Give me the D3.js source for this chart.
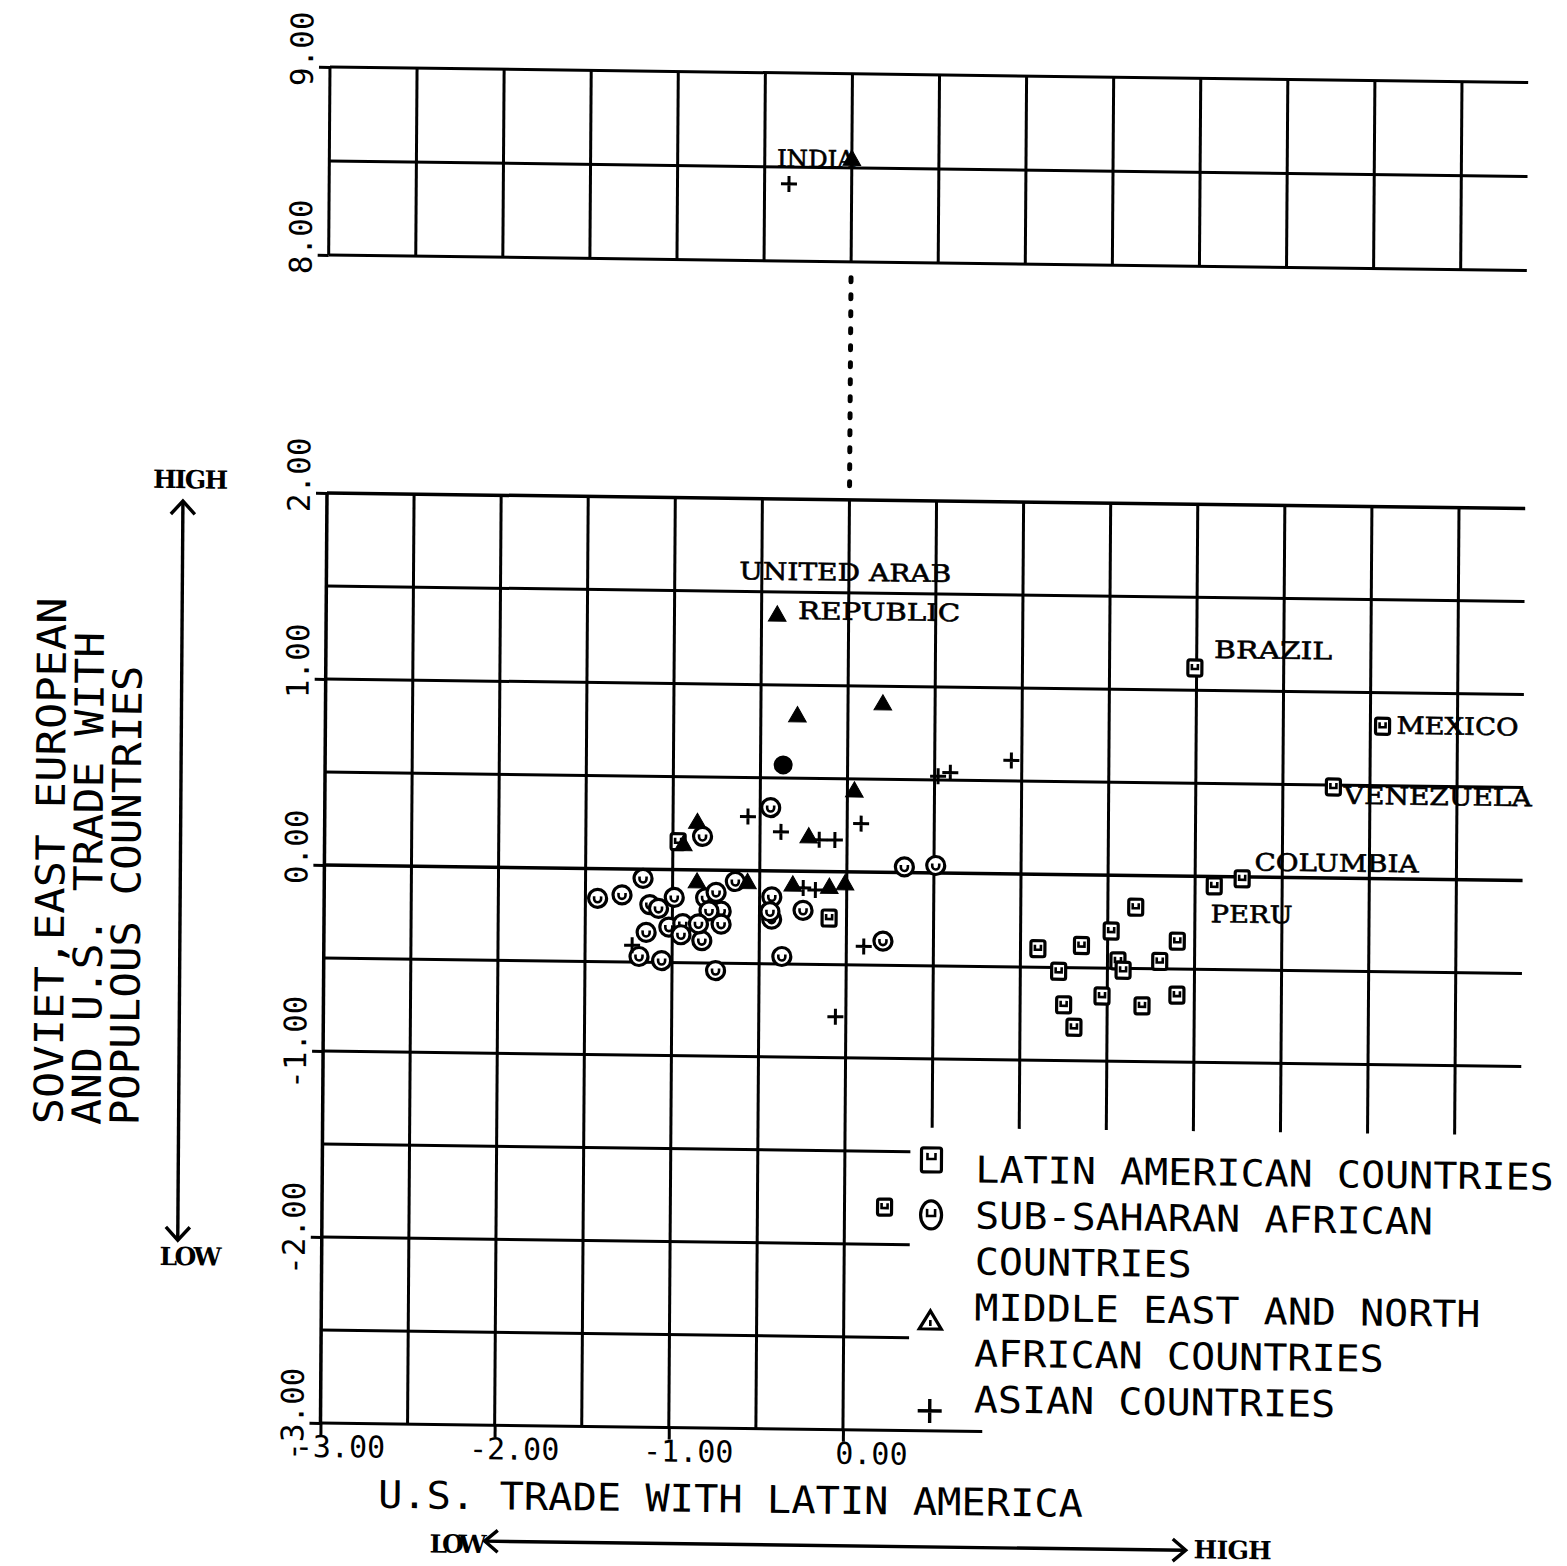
<!DOCTYPE html>
<html>
<head>
<meta charset="utf-8">
<script src="https://cdn.jsdelivr.net/npm/d3@7"></script>
<style>
  body { margin: 0; background: #fff; }
</style>
</head>
<body>
<div id="chart"></div>
<script>
// ---- data ----
// Latin American countries (squares)
var latinX = [1.99, 3.07, 2.79, 2.27, 2.11, 1.10, 1.22, 1.25, 1.31, 1.35, 1.47, 1.52, 1.56, 1.59, 1.66, 1.70, 1.80, 1.90, 1.90, -0.10, -0.97, 0.23];
var latinY = [1.12, 0.82, 0.49, -0.01, -0.05, -0.40, -0.52, -0.70, -0.82, -0.38, -0.65, -0.30, -0.46, -0.51, -0.17, -0.70, -0.46, -0.35, -0.64, -0.25, 0.15, -1.80];

// Sub-Saharan African countries (circles)
var africaX = [-0.44, -0.83, -1.17, -1.43, -1.29, -1.13, -1.08, -0.99, -0.81, -0.75, -0.72, -0.79, -0.64, -1.15, -1.02, -0.94, -0.95, -0.83, -0.72, -0.85, -1.19, -1.06, -0.75, -0.43, -0.43, -0.44, -0.25, -0.37, 0.21, 0.33, 0.51];
var africaY = [0.34, 0.18, -0.05, -0.16, -0.14, -0.19, -0.21, -0.15, -0.15, -0.12, -0.22, -0.22, -0.06, -0.34, -0.31, -0.29, -0.35, -0.38, -0.29, -0.29, -0.47, -0.49, -0.54, -0.14, -0.26, -0.22, -0.21, -0.46, -0.37, 0.03, 0.04];

// Middle East and North African countries (triangles)
var meX = [0.00, -0.41, -0.29, 0.20, 0.04, -0.86, -0.94, -0.22, -0.86, -0.57, -0.31, -0.10, -0.01];
var meY = [8.54, 1.37, 0.83, 0.90, 0.43, 0.25, 0.13, 0.18, -0.07, -0.07, -0.08, -0.09, -0.07];

// Asian countries (plus signs)
var asiaX = [-0.36, -0.57, -0.38, -0.16, -0.07, 0.08, 0.52, 0.59, 0.94, -0.25, -0.18, 0.10, -1.23, -0.06];
var asiaY = [8.41, 0.29, 0.21, 0.17, 0.17, 0.26, 0.52, 0.54, 0.61, -0.09, -0.10, -0.40, -0.41, -0.78];

// overprinted spot (several markers on top of each other)
var blotX = [-0.37];
var blotY = [0.57];

// country labels: text, left x, baseline y, printed width
var labelText = ["INDIA", "UNITED ARAB", "REPUBLIC", "BRAZIL", "MEXICO", "VENEZUELA", "COLUMBIA", "PERU"];
var labelX = [-0.43, -0.63, -0.29, 2.10, 3.15, 2.85, 2.34, 2.09];
var labelY = [8.50, 1.565, 1.355, 1.175, 0.78, 0.40, 0.036, -0.246];
var labelW = [78, 212, 162, 118, 122, 188, 164, 82];

// ticks
var topTicks = [8, 9];
var lowTicks = [-3, -2, -1, 0, 1, 2];
var xTicks = [-3, -2, -1, 0];

var legendLabels = [["LATIN AMERICAN COUNTRIES"], ["SUB-SAHARAN AFRICAN", "COUNTRIES"], ["MIDDLE EAST AND NORTH", "AFRICAN COUNTRIES"], ["ASIAN COUNTRIES"]];
var legendShapes = ["square", "circle", "triangle", "plus"];

// ---- layout ----
var svgWidth = 1567;
var svgHeight = 1566;
var mono = "'DejaVu Sans Mono', monospace";
var serif = "'DejaVu Serif', serif";
var lw = 3;

var svg = d3.select("#chart")
  .append("svg")
  .attr("width", svgWidth)
  .attr("height", svgHeight)
  .style("background", "#fff");

// the original page was scanned a little crooked
var page = svg.append("g")
  .attr("transform", "matrix(1,0.013,-0.007,1,3.45,-4.25)");

var xScale = d3.scaleLinear().domain([-3, 3.5]).range([327, 1459]);
var yLow = d3.scaleLinear().domain([-3, 2]).range([1423, 493]);
var yTop = d3.scaleLinear().domain([8, 9]).range([255, 67]);
var xEnd = 3.88;

function yPos(v) { return v >= 8 ? yTop(v) : yLow(v); }

var halves = d3.range(-6, 8).map(i => i / 2); // -3 .. 3.5

// ---- grid, upper panel ----
var grid = page.append("g").attr("stroke", "#000").attr("stroke-width", lw);

[8, 8.5, 9].forEach(function(v) {
  grid.append("line")
    .attr("x1", xScale(-3)).attr("x2", xScale(xEnd))
    .attr("y1", yTop(v)).attr("y2", yTop(v));
});
halves.forEach(function(v) {
  grid.append("line")
    .attr("x1", xScale(v)).attr("x2", xScale(v))
    .attr("y1", yTop(9)).attr("y2", yTop(8));
});

// ---- grid, lower panel ----
d3.range(-6, 5).map(i => i / 2).forEach(function(v) {
  var end = xEnd;
  if (v < -1 && v > -3) end = 0.376;
  if (v === -3) end = 0.80;
  grid.append("line")
    .attr("x1", xScale(-3)).attr("x2", xScale(end))
    .attr("y1", yLow(v)).attr("y2", yLow(v))
    .attr("stroke-width", v === 0 || v === 2 ? 3.5 : lw);
});
halves.forEach(function(v) {
  grid.append("line")
    .attr("x1", xScale(v)).attr("x2", xScale(v))
    .attr("y1", yLow(2)).attr("y2", v > 0 ? yLow(-1.37) : yLow(-3))
    .attr("stroke-width", v === -3 ? 3.5 : lw);
});

// dotted link between the two panels
page.append("line")
  .attr("x1", xScale(0)).attr("x2", xScale(0))
  .attr("y1", yTop(8) + 16).attr("y2", yLow(2) - 6)
  .attr("stroke", "#000")
  .attr("stroke-width", 5)
  .attr("stroke-linecap", "round")
  .attr("stroke-dasharray", "4,13");

// ---- axes ----
function styleY(g) {
  g.select(".domain").remove();
  g.selectAll(".tick line").attr("stroke", "#000").attr("stroke-width", lw);
  g.selectAll(".tick text")
    .attr("x", 0).attr("dy", 0)
    .attr("fill", "#000")
    .attr("font-family", mono)
    .attr("font-size", 31)
    .attr("text-anchor", "start")
    .attr("transform", function(d) {
      var k = d.toFixed(2).indexOf(".");
      return "translate(-17," + (-9 + (k + 0.5) * 18.7) + ") rotate(-90)";
    });
}

page.append("g")
  .attr("transform", `translate(${xScale(-3)},0)`)
  .call(d3.axisLeft(yTop).tickValues(topTicks).tickSize(11).tickFormat(d => d.toFixed(2)))
  .call(styleY);

page.append("g")
  .attr("transform", `translate(${xScale(-3)},0)`)
  .call(d3.axisLeft(yLow).tickValues(lowTicks).tickSize(11).tickFormat(d => d.toFixed(2)))
  .call(styleY);

page.append("g")
  .attr("transform", `translate(0,${yLow(-3)})`)
  .call(d3.axisBottom(xScale).tickValues(xTicks).tickSize(12).tickFormat(d => d.toFixed(2)))
  .call(function(g) {
    g.select(".domain").remove();
    g.selectAll(".tick line").attr("stroke", "#000").attr("stroke-width", lw);
    g.selectAll(".tick text")
      .attr("x", d => d < 0 ? -26 : -8)
      .attr("y", 34).attr("dy", 0)
      .attr("fill", "#000")
      .attr("font-family", mono)
      .attr("font-size", 30)
      .attr("text-anchor", "start");
  });

// axis titles
page.append("text")
  .attr("x", 385).attr("y", 1507)
  .attr("font-family", mono).attr("font-size", 38)
  .attr("textLength", 705).attr("lengthAdjust", "spacingAndGlyphs")
  .text("U.S. TRADE WITH LATIN AMERICA");

var yTitle = ["SOVIET,EAST EUROPEAN", "AND U.S. TRADE WITH", "POPULOUS COUNTRIES"];
var yTitleLen = [527, 493, 460];
yTitle.forEach(function(t, i) {
  page.append("text")
    .attr("transform", `translate(${67 + i * 38},1128) rotate(-90)`)
    .attr("font-family", mono).attr("font-size", 40)
    .attr("textLength", yTitleLen[i]).attr("lengthAdjust", "spacingAndGlyphs")
    .text(t);
});

// LOW / HIGH arrows
var arrows = page.append("g").attr("stroke", "#000").attr("stroke-width", 3.4).attr("fill", "none");
arrows.append("line").attr("x1", 183).attr("x2", 183).attr("y1", 503).attr("y2", 1242);
arrows.append("path").attr("d", "M171,516 L183,503 L195,516");
arrows.append("path").attr("d", "M171,1229 L183,1242 L195,1229");
arrows.append("line").attr("x1", 492).attr("x2", 1193).attr("y1", 1539).attr("y2", 1539);
arrows.append("path").attr("d", "M505,1528 L492,1539 L505,1550");
arrows.append("path").attr("d", "M1180,1528 L1193,1539 L1180,1550");

var hl = page.append("g").attr("font-family", serif).attr("font-weight", "bold").attr("font-size", 25);
hl.append("text").attr("x", 153).attr("y", 490).attr("textLength", 75).text("HIGH");
hl.append("text").attr("x", 165).attr("y", 1267).attr("textLength", 62).text("LOW");
hl.append("text").attr("x", 437).attr("y", 1551).attr("textLength", 57).text("LOW");
hl.append("text").attr("x", 1201).attr("y", 1547).attr("textLength", 78).text("HIGH");

// ---- markers ----
function squareMark(g, big) {
  var w = big ? 20 : 14, h = big ? 24 : 16;
  g.append("rect").attr("x", -w / 2).attr("y", -h / 2).attr("width", w).attr("height", h)
    .attr("rx", 2).attr("fill", "#fff").attr("stroke", "#000").attr("stroke-width", 3.2);
  g.append("path").attr("d", big ? "M-4,-7V-1H4V-7" : "M-3,-4V1H3V-4")
    .attr("fill", "none").attr("stroke", "#000").attr("stroke-width", 2.6);
}
function circleMark(g, big) {
  g.append("ellipse").attr("rx", big ? 10.5 : 9).attr("ry", big ? 14 : 9)
    .attr("fill", "#fff").attr("stroke", "#000").attr("stroke-width", 3.2);
  g.append("path").attr("d", big ? "M-4,-6V1H4V-6" : "M-3.5,-2V0.5A3.5,3.5 0 0 0 3.5,0.5V-2")
    .attr("fill", "none").attr("stroke", "#000").attr("stroke-width", 2.6);
}
function triangleMark(g, big) {
  if (big) {
    g.append("path").attr("d", "M0,-10L11,8H-11Z").attr("fill", "#fff").attr("stroke", "#000").attr("stroke-width", 3.2);
    g.append("path").attr("d", "M0,-1V5").attr("stroke", "#000").attr("stroke-width", 2.6);
  } else {
    g.append("path").attr("d", d3.symbol(d3.symbolTriangle, 135)()).attr("fill", "#000")
      .attr("stroke", "#000").attr("stroke-width", 1);
  }
}
function plusMark(g, big) {
  var s = big ? 12 : 8;
  g.append("path").attr("d", `M${-s},0H${s}M0,${-s}V${s}`)
    .attr("stroke", "#000").attr("stroke-width", big ? 3.4 : 3);
}

var series = [
  { xs: latinX, ys: latinY, draw: squareMark },
  { xs: africaX, ys: africaY, draw: circleMark },
  { xs: meX, ys: meY, draw: triangleMark },
  { xs: asiaX, ys: asiaY, draw: plusMark }
];

var marks = page.append("g");
series.forEach(function(s) {
  marks.selectAll(null)
    .data(d3.zip(s.xs, s.ys))
    .enter()
    .append("g")
    .attr("transform", d => `translate(${xScale(d[0])},${yPos(d[1])})`)
    .each(function() { s.draw(d3.select(this), false); });
});

marks.selectAll(null)
  .data(d3.zip(blotX, blotY))
  .enter()
  .append("circle")
  .attr("cx", d => xScale(d[0]))
  .attr("cy", d => yPos(d[1]))
  .attr("r", 9.5)
  .attr("fill", "#000");

// country labels
page.append("g")
  .attr("font-family", serif)
  .attr("font-size", 24)
  .attr("stroke", "#000")
  .attr("stroke-width", 0.6)
  .selectAll("text")
  .data(labelText)
  .enter()
  .append("text")
  .attr("x", (d, i) => xScale(labelX[i]))
  .attr("y", (d, i) => yPos(labelY[i]))
  .attr("textLength", (d, i) => labelW[i])
  .attr("lengthAdjust", "spacingAndGlyphs")
  .text(d => d);

// ---- legend ----
var lx = xScale(0.75);
var ly = 1174;
var lineGap = 46;
var symOffset = [-22, -13, 1, -1];
var shapeFns = { square: squareMark, circle: circleMark, triangle: triangleMark, plus: plusMark };
var legend = page.append("g");
var row = 0;
legendLabels.forEach(function(lines, i) {
  var sg = legend.append("g")
    .attr("transform", `translate(${lx - 44},${ly + row * lineGap + symOffset[i]})`);
  shapeFns[legendShapes[i]](sg, true);
  lines.forEach(function(t) {
    legend.append("text")
      .attr("x", lx)
      .attr("y", ly + row * lineGap)
      .attr("font-family", mono)
      .attr("font-size", 37)
      .attr("textLength", t.length * 24.1)
      .attr("lengthAdjust", "spacingAndGlyphs")
      .text(t);
    row++;
  });
});
</script>
</body>
</html>
